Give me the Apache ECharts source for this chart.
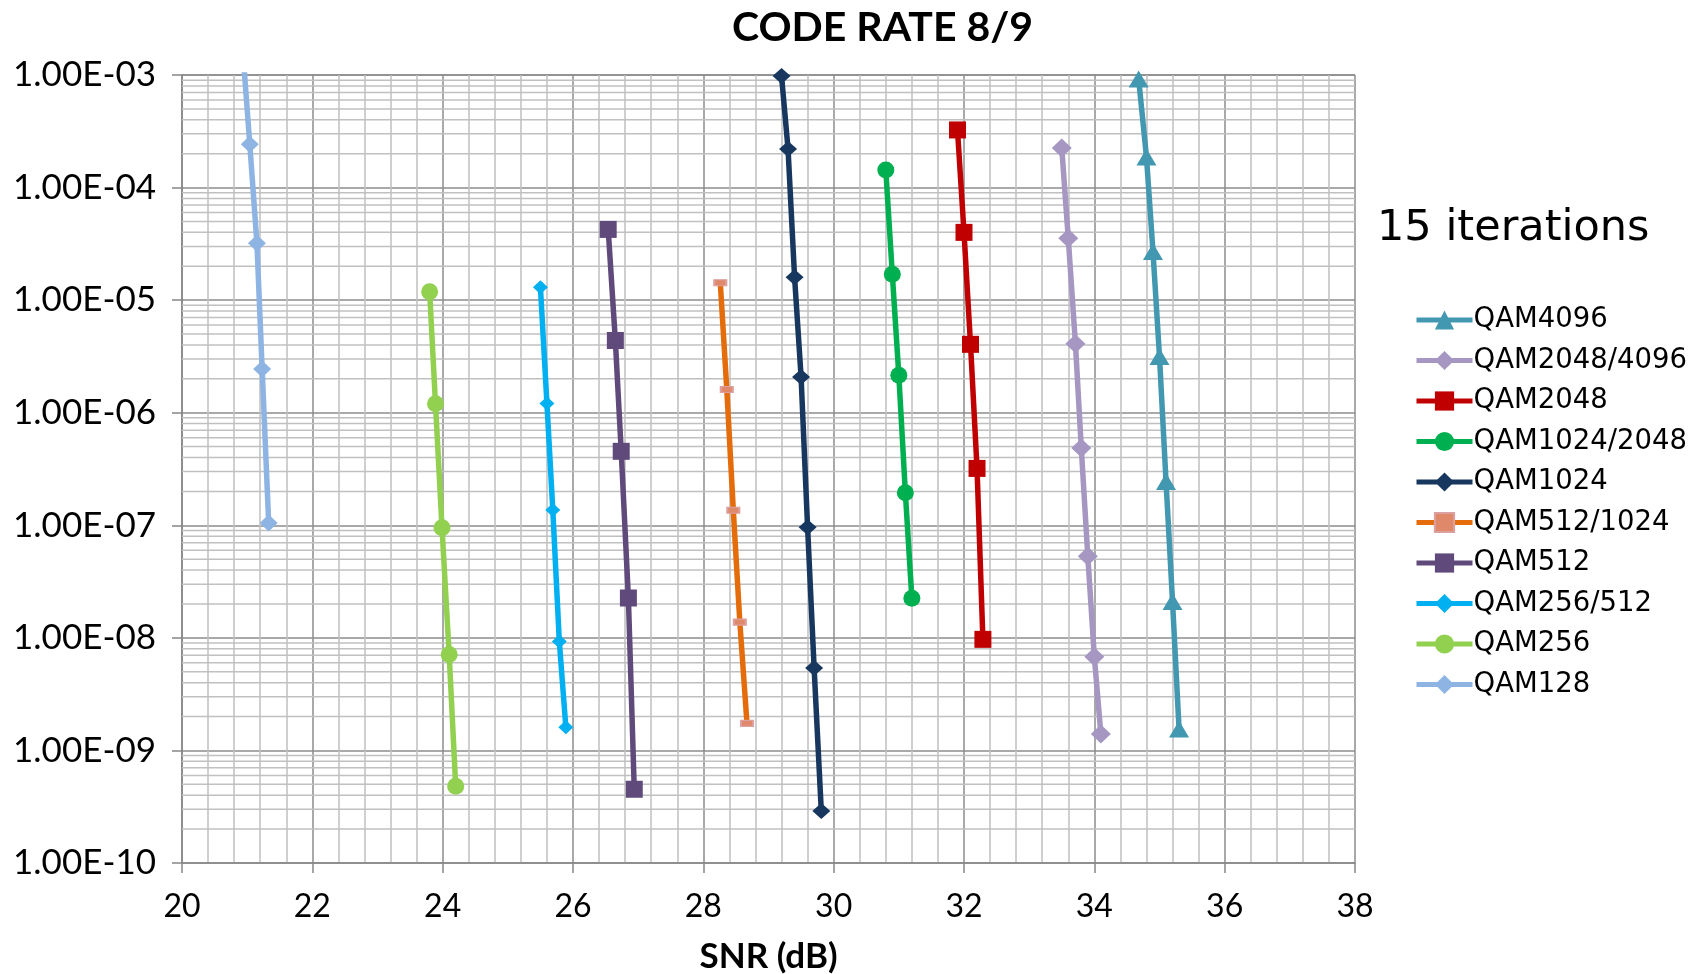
<!DOCTYPE html>
<html>
<head>
<meta charset="utf-8">
<script src="https://cdn.jsdelivr.net/npm/echarts@6/dist/echarts.min.js"></script>
<style>
html,body{margin:0;padding:0;background:#fff;}
#chart{width:1697px;height:974px;}
</style>
</head>
<body>
<div id="chart"></div>
<script>
// ---- Data ----
const seriesNames = ['QAM4096','QAM2048/4096','QAM2048','QAM1024/2048','QAM1024','QAM512/1024','QAM512','QAM256/512','QAM256','QAM128'];

const qam4096Snr = [34.68, 34.80, 34.90, 35.00, 35.10, 35.20, 35.30];
const qam4096Ber = [9.2e-4, 1.87e-4, 2.7e-5, 3.15e-6, 2.45e-7, 2.1e-8, 1.55e-9];

const qam2048_4096Snr = [33.50, 33.60, 33.71, 33.80, 33.90, 34.00, 34.10];
const qam2048_4096Ber = [2.25e-4, 3.55e-5, 4.1e-6, 4.85e-7, 5.3e-8, 6.8e-9, 1.4e-9];

const qam2048Snr = [31.90, 32.00, 32.10, 32.20, 32.29];
const qam2048Ber = [3.25e-4, 4.0e-5, 4.05e-6, 3.2e-7, 9.7e-9];

const qam1024_2048Snr = [30.80, 30.90, 31.00, 31.10, 31.20];
const qam1024_2048Ber = [1.43e-4, 1.7e-5, 2.15e-6, 1.95e-7, 2.25e-8];

const qam1024Snr = [29.20, 29.30, 29.40, 29.50, 29.60, 29.70, 29.81];
const qam1024Ber = [9.8e-4, 2.2e-4, 1.6e-5, 2.08e-6, 9.6e-8, 5.4e-9, 2.9e-10];

const qam512_1024Snr = [28.26, 28.36, 28.46, 28.56, 28.67];
const qam512_1024Ber = [1.43e-5, 1.61e-6, 1.36e-7, 1.38e-8, 1.74e-9];

const qam512Snr = [26.54, 26.65, 26.74, 26.85, 26.94];
const qam512Ber = [4.25e-5, 4.38e-6, 4.54e-7, 2.26e-8, 4.52e-10];

const qam256_512Snr = [25.50, 25.60, 25.69, 25.79, 25.89];
const qam256_512Ber = [1.3e-5, 1.21e-6, 1.37e-7, 9.3e-9, 1.61e-9];

const qam256Snr = [23.80, 23.89, 23.99, 24.10, 24.20];
const qam256Ber = [1.19e-5, 1.2e-6, 9.5e-8, 7.1e-9, 4.8e-10];

const qam128Snr = [20.94, 21.04, 21.15, 21.23, 21.33];
const qam128Ber = [1.45e-3, 2.43e-4, 3.2e-5, 2.44e-6, 1.05e-7];

// axis ticks
const xTickMin = 20, xTickMax = 38, xTickStep = 2;
const yDecadeMin = 1e-10, yDecadeMax = 1e-3;
const minorMultipliers = [2,3,4,5,6,7,8,9];
const minorDecades = [1e-10,1e-9,1e-8,1e-7,1e-6,1e-5,1e-4];

// ---- Build ----
function pairs(xs, ys){ return xs.map((x,i)=>[x, ys[i]]); }

const styles = {
  'QAM4096':      {color:'#4298b0', symbol:'triangle', size:[20,17]},
  'QAM2048/4096': {color:'#a597c2', symbol:'diamond', size:[20,19]},
  'QAM2048':      {color:'#c00000', symbol:'rect', size:[17,17]},
  'QAM1024/2048': {color:'#00b050', symbol:'circle', size:17},
  'QAM1024':      {color:'#17375e', symbol:'diamond', size:[18,16]},
  'QAM512/1024':  {color:'#e46c0a', symbol:'rect', size:[12,6], markColor:'#e0896a', border:'#dca0a0'},
  'QAM512':       {color:'#604a7b', symbol:'rect', size:[17,17]},
  'QAM256/512':   {color:'#00b0f0', symbol:'diamond', size:[15,14]},
  'QAM256':       {color:'#92d050', symbol:'circle', size:17},
  'QAM128':       {color:'#8eb4e3', symbol:'diamond', size:[18,17]}
};
const dataMap = {
  'QAM4096': pairs(qam4096Snr, qam4096Ber),
  'QAM2048/4096': pairs(qam2048_4096Snr, qam2048_4096Ber),
  'QAM2048': pairs(qam2048Snr, qam2048Ber),
  'QAM1024/2048': pairs(qam1024_2048Snr, qam1024_2048Ber),
  'QAM1024': pairs(qam1024Snr, qam1024Ber),
  'QAM512/1024': pairs(qam512_1024Snr, qam512_1024Ber),
  'QAM512': pairs(qam512Snr, qam512Ber),
  'QAM256/512': pairs(qam256_512Snr, qam256_512Ber),
  'QAM256': pairs(qam256Snr, qam256Ber),
  'QAM128': pairs(qam128Snr, qam128Ber)
};

// minor log gridlines (2..9 per decade), drawn through the y scale
const minorGridValues = [];
minorDecades.forEach(d => minorMultipliers.forEach(m => minorGridValues.push([xTickMin, +(d*m).toPrecision(3)])));

const series = [{
  name: '__minorgrid',
  type: 'custom',
  z: 1,
  silent: true,
  animation: false,
  clip: false,
  data: minorGridValues,
  renderItem: function(params, api){
    const cs = params.coordSys;
    const y = api.coord([api.value(0), api.value(1)])[1];
    return {
      type: 'line',
      shape: {x1: cs.x, y1: y, x2: cs.x + cs.width, y2: y},
      style: {stroke: '#c0c0c0', lineWidth: 1.5}
    };
  }
}];

seriesNames.forEach(name => {
  const s = styles[name];
  series.push({
    name: name,
    type: 'line',
    z: 3,
    data: dataMap[name],
    symbol: s.symbol,
    symbolSize: s.size,
    showAllSymbol: true,
    clip: true,
    lineStyle: {color: s.color, width: 5.5},
    itemStyle: s.border ? {color: s.markColor, borderColor: s.border, borderWidth: 1.5} : {color: s.color},
    emphasis: {disabled: true},
    animation: false
  });
});

function fmtExp(v){
  const e = Math.round(Math.log10(v));
  const m = v / Math.pow(10, e);
  return m.toFixed(2) + 'E' + (e < 0 ? '-' : '+') + String(Math.abs(e)).padStart(2,'0');
}

const chart = echarts.init(document.getElementById('chart'), null, {renderer:'canvas'});
chart.setOption({
  backgroundColor: '#ffffff',
  animation: false,
  title: {
    text: 'CODE RATE 8/9',
    left: 727, top: 2,
    textStyle: {fontFamily:'Lato', fontWeight:'bold', fontSize:41, color:'#000'}
  },
  grid: {left:182, right:342, top:75, bottom:111, containLabel:false, outerBoundsMode:'none'},
  legend: {
    data: seriesNames,
    orient: 'vertical',
    left: 1409, top: 300,
    itemWidth: 56, itemHeight: 24,
    itemGap: 10.5,
    lineStyle: {width: 5},
    textStyle: {fontFamily:'DejaVu Sans', fontSize:27.5, color:'#000', lineHeight:30, padding:[0,0,0,-4]},
    selectedMode: false
  },
  graphic: [{
    type: 'text',
    left: 1377, top: 207,
    style: {text:'15 iterations', font:'43px "DejaVu Sans"', fill:'#000'}
  }],
  xAxis: {
    type: 'value',
    min: xTickMin, max: xTickMax, interval: xTickStep,
    name: 'SNR (dB)',
    nameLocation: 'middle',
    nameGap: 76,
    nameTextStyle: {fontFamily:'Lato', fontWeight:'bold', fontSize:35, color:'#000'},
    axisLine: {show:true, lineStyle:{color:'#868686', width:1.5}},
    axisTick: {show:true, length:10, lineStyle:{color:'#868686', width:1.5}},
    axisLabel: {fontFamily:'Lato', fontSize:32, color:'#000', margin:28},
    splitLine: {show:true, lineStyle:{color:'#8c8c8c', width:1.5}},
    minorTick: {show:false, splitNumber:5},
    minorSplitLine: {show:true, lineStyle:{color:'#c0c0c0', width:1.5}}
  },
  yAxis: {
    type: 'log',
    logBase: 10,
    min: yDecadeMin, max: yDecadeMax,
    splitNumber: 7,
    axisLine: {show:true, onZero:false, lineStyle:{color:'#868686', width:1.5}},
    axisTick: {show:true, length:10, lineStyle:{color:'#868686', width:1.5}},
    axisLabel: {fontFamily:'Lato', fontSize:35, color:'#000', margin:26, formatter: fmtExp},
    splitLine: {show:true, lineStyle:{color:'#8c8c8c', width:1.5}},
    minorSplitLine: {show:false}
  },
  series: series
});
</script>
</body>
</html>
